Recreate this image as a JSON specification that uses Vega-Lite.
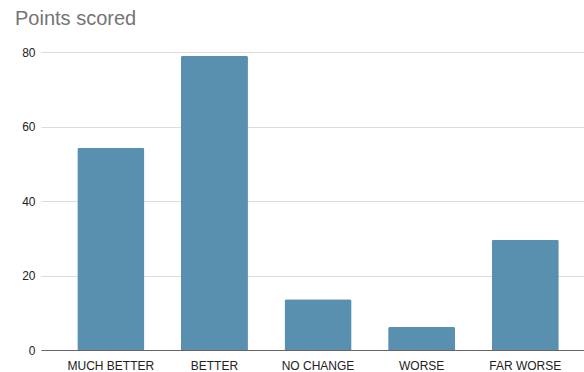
{
  "$schema": "https://vega.github.io/schema/vega-lite/v6.json",
  "autosize": {"type": "none"},
  "padding": {"left": 41, "top": 52, "right": 0, "bottom": 22},
  "width": 543,
  "height": 298,
  "background": "white",
  "title": {
    "text": "Points scored",
    "anchor": "start",
    "frame": "group",
    "font": "Liberation Sans",
    "fontSize": 20,
    "fontWeight": "normal",
    "color": "#757575",
    "dx": -26,
    "dy": 19,
    "offset": 16,
    "baseline": "bottom"
  },
  "data": {
    "values": [
      {"response": "MUCH BETTER", "points": 54.3},
      {"response": "BETTER", "points": 79},
      {"response": "NO CHANGE", "points": 13.6},
      {"response": "WORSE", "points": 6.2},
      {"response": "FAR WORSE", "points": 29.6}
    ]
  },
  "mark": {"type": "bar", "color": "#5990af", "cornerRadiusEnd": 2},
  "encoding": {
    "x": {
      "field": "response",
      "type": "nominal",
      "sort": null,
      "scale": {"paddingInner": 0.353, "paddingOuter": 0.297, "align": 0.59},
      "axis": {
        "title": null,
        "labelAngle": 0,
        "ticks": false,
        "domainColor": "#666666",
        "domainWidth": 1,
        "labelFont": "Liberation Sans",
        "labelFontSize": 12,
        "labelColor": "#222222",
        "labelPadding": 10
      }
    },
    "y": {
      "field": "points",
      "type": "quantitative",
      "scale": {"domain": [0, 80], "nice": false},
      "axis": {
        "title": null,
        "values": [0, 20, 40, 60, 80],
        "domain": false,
        "ticks": false,
        "gridColor": "#dddddd",
        "labelFont": "Liberation Sans",
        "labelFontSize": 12,
        "labelColor": "#222222",
        "labelPadding": 6
      }
    }
  },
  "config": {"view": {"stroke": null}}
}
